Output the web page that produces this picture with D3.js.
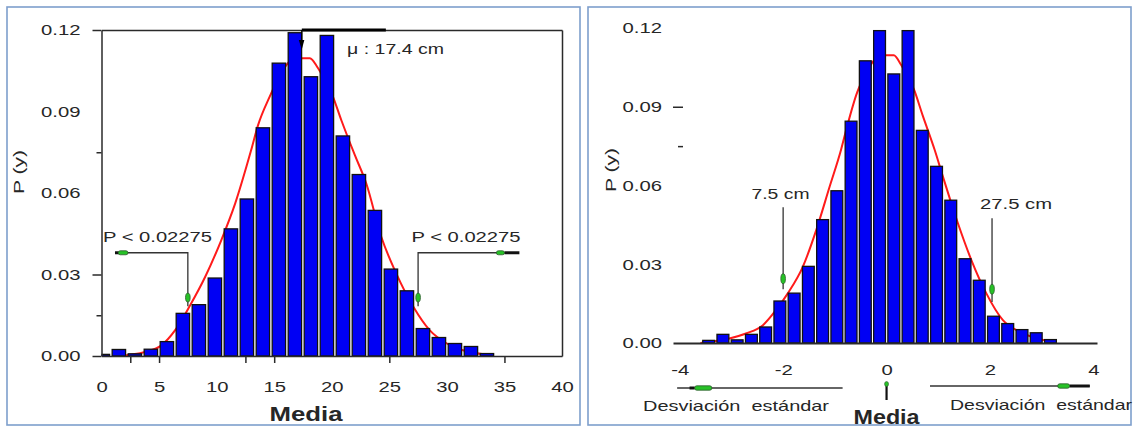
<!DOCTYPE html>
<html><head><meta charset="utf-8">
<script src="https://cdn.jsdelivr.net/npm/d3@7"></script>
<style>
html,body{margin:0;padding:0;background:#fff;}
svg{display:block;}
text{font-family:"Liberation Sans",Arial,sans-serif;fill:#262626;}
</style></head><body>
<svg id="chart" width="1134" height="428"></svg>
<script>
// ---------- data ----------
const binEdgesCm = [-0.55,0.84,2.23,3.62,5.01,6.40,7.79,9.18,10.57,11.96,13.35,14.74,16.13,17.52,18.91,20.30,21.69,23.08,24.47,25.86,27.25,28.64,30.03,31.42,32.81,34.20];
const probsCm = [0.0006,0.0024,0.0008,0.0025,0.0053,0.0157,0.0189,0.0287,0.0468,0.0578,0.0840,0.1078,0.1190,0.1028,0.1180,0.0810,0.0668,0.0536,0.0320,0.0240,0.0101,0.0068,0.0046,0.0035,0.0009];
const curveCmX = [1.8,2.2,3.8,5.2,6.4,7.7,9.0,10.4,11.6,13.0,13.6,14.6,15.6,16.5,17.2,18.1,18.8,20.0,20.85,22.0,23.0,24.3,25.6,27.1,28.5,30.0,31.4,34.0];
const curveCmY = [0.0,0.0003,0.0015,0.0039,0.0095,0.0187,0.0291,0.0426,0.056,0.0758,0.085,0.0954,0.104,0.109,0.1096,0.1096,0.106,0.0966,0.0866,0.074,0.0635,0.0439,0.0304,0.018,0.0095,0.0046,0.0021,0.0003];

const binEdgesZ = [-3.570,-3.295,-3.019,-2.744,-2.468,-2.193,-1.918,-1.642,-1.367,-1.091,-0.816,-0.541,-0.265,0.010,0.286,0.561,0.836,1.112,1.387,1.663,1.938,2.213,2.489,2.764,3.040,3.315];
const probsZ = [0.0010,0.0033,0.0012,0.0033,0.0061,0.0160,0.0190,0.0292,0.0470,0.0580,0.0845,0.1075,0.1190,0.1025,0.1190,0.0810,0.0673,0.0544,0.0321,0.0239,0.0102,0.0074,0.0051,0.0039,0.0013];
const curveZX = [-3.6,-3.43,-3.04,-2.72,-2.39,-2.14,-1.91,-1.62,-1.36,-1.10,-0.88,-0.77,-0.57,-0.36,-0.18,-0.04,0.14,0.28,0.53,0.70,0.93,1.09,1.38,1.64,1.93,2.25,2.58,2.90,3.29];
const curveZY = [0.0,0.0004,0.0017,0.0036,0.0068,0.0125,0.0189,0.029,0.043,0.0596,0.0736,0.082,0.0954,0.104,0.109,0.1096,0.1096,0.106,0.0966,0.0866,0.0736,0.0634,0.0456,0.0316,0.0189,0.0087,0.0042,0.0017,0.0004];

const xTicksCm = [0,5,10,15,20,25,30,35,40];
const xMarksCm = [2.5,5,12.5,15,25,35];
const yTicks = [0,0.03,0.06,0.09,0.12];
const yMajorMarksL = [0,0.03,0.12];
const yMinorMarksL = [0.015,0.075];
const yDashR = [0.09];
const yDashR2 = [0.075];
const xTicksZ = [-4,-2,0,2,4];

const muValue = 17.4, lowCm = 7.5, highCm = 27.5, lowZ = -2, highZ = 2.04;
const txtMu = "μ : 17.4 cm", txtP = "P < 0.02275", txtLow = "7.5 cm", txtHigh = "27.5 cm";
const txtDev = "Desviación  estándar", txtMedia = "Media", txtPy = "P (y)";

// ---------- helpers ----------
const svg = d3.select("#chart");
const fmt = d3.format(".2f");
const fmtZ = d => (d < 0 ? "-" : "") + Math.abs(d);
const BLUE = "#0000f4", RED = "#ff1a1a", GREEN = "#27c227", AX = "#2a2a2a";
function stretch(sel, k){ sel.each(function(){ const w=this.getComputedTextLength(); this.setAttribute("textLength", w*k); this.setAttribute("lengthAdjust","spacingAndGlyphs"); }); }
function fixLen(sel, w){ sel.attr("textLength", w).attr("lengthAdjust","spacingAndGlyphs"); }

// panel borders
svg.append("rect").attr("x",7).attr("y",7).attr("width",573).attr("height",418).attr("fill","none").attr("stroke","#7e9fcc").attr("stroke-width",1.6);
svg.append("rect").attr("x",588).attr("y",7).attr("width",543).attr("height",418).attr("fill","none").attr("stroke","#7e9fcc").attr("stroke-width",1.6);

// ================= LEFT PANEL =================
const xL = d3.scaleLinear().domain([0,40]).range([101.5,562]);
const yL = d3.scaleLinear().domain([0,0.12]).range([356,30]);
const gL = svg.append("g");

svg.append("defs").append("clipPath").attr("id","clipL").append("rect")
  .attr("x",xL(0)).attr("y",0).attr("width",xL(40)-xL(0)).attr("height",yL(0));

// curve (behind bars)
const lineL = d3.line().x((d,i)=>xL(curveCmX[i])).y(d=>yL(d)).curve(d3.curveMonotoneX);
gL.append("path").datum(curveCmY).attr("d",lineL).attr("fill","none").attr("stroke",RED).attr("stroke-width",2);

// bars
gL.append("g").attr("clip-path","url(#clipL)").selectAll("rect").data(probsCm).join("rect")
  .attr("x",(d,i)=>xL(binEdgesCm[i])+1)
  .attr("width",(d,i)=>xL(binEdgesCm[i+1])-xL(binEdgesCm[i])-2.6)
  .attr("y",d=>yL(d)).attr("height",d=>yL(0)-yL(d))
  .attr("fill",BLUE).attr("stroke","#111").attr("stroke-width",1.3);

// axes / frame
function styleAxis(g){ g.selectAll("path,line").attr("stroke",AX).attr("stroke-width",1.5); }
gL.append("g").attr("transform",`translate(${xL(0)},0)`)
  .call(d3.axisLeft(yL).tickValues(yMajorMarksL).tickSize(9).tickSizeOuter(0).tickFormat(""))
  .call(styleAxis);
gL.append("g").attr("transform",`translate(${xL(0)},0)`)
  .call(d3.axisLeft(yL).tickValues(yMinorMarksL).tickSize(5).tickFormat(""))
  .call(g=>g.select(".domain").remove()).call(styleAxis);
gL.append("g").attr("transform",`translate(0,${yL(0)})`)
  .call(d3.axisBottom(xL).tickValues(xMarksCm).tickSize(7).tickSizeOuter(0).tickFormat(""))
  .call(styleAxis);
gL.append("g").attr("transform",`translate(0,${yL(0.12)})`)
  .call(d3.axisTop(xL).tickValues([]).tickSizeOuter(0)).call(styleAxis);
gL.append("g").attr("transform",`translate(${xL(40)},0)`)
  .call(d3.axisRight(yL).tickValues([]).tickSizeOuter(0)).call(styleAxis);

// tick labels
const ylab = gL.append("g").attr("transform",`translate(${xL(0)},0)`)
  .call(d3.axisLeft(yL).tickValues(yTicks).tickSize(0).tickPadding(21).tickFormat(fmt))
  .call(g=>g.select(".domain").remove());
ylab.selectAll("text").attr("font-size",15).attr("font-family",null).attr("fill","#262626");
stretch(ylab.selectAll("text"),1.35);
const xlab = gL.append("g").attr("transform",`translate(0,${yL(0)})`)
  .call(d3.axisBottom(xL).tickValues(xTicksCm).tickSize(0).tickPadding(25))
  .call(g=>g.select(".domain").remove());
xlab.selectAll("text").attr("font-size",15).attr("font-family",null).attr("fill","#262626");
stretch(xlab.selectAll("text"),1.35);

// axis titles
gL.append("text").attr("transform","translate(23.5,172) rotate(-90)").attr("text-anchor","middle")
  .attr("font-size",15).text(txtPy).call(fixLen,44);
gL.append("text").attr("x",306).attr("y",421).attr("text-anchor","middle")
  .attr("font-family","Lato, 'Open Sans', sans-serif").attr("font-weight","bold").attr("font-size",21).attr("fill","#111")
  .text(txtMedia).call(fixLen,73);

// mu annotation
gL.append("line").attr("x1",xL(muValue)).attr("x2",xL(24.7)).attr("y1",yL(0.12)).attr("y2",yL(0.12))
  .attr("stroke","#000").attr("stroke-width",3);
gL.append("line").attr("x1",xL(muValue)).attr("x2",xL(muValue)).attr("y1",yL(0.12)).attr("y2",yL(0.1145))
  .attr("stroke","#000").attr("stroke-width",1.4);
gL.append("path").attr("d",`M${xL(muValue)-3},${yL(0.1145)-5} L${xL(muValue)+2.5},${yL(0.1145)-5} L${xL(muValue)},${yL(0.1128)} Z`).attr("fill","#000");
gL.append("text").attr("x",347).attr("y",53.5).attr("font-size",15).text(txtMu).call(fixLen,97);

// P annotations
function pArrow(xTip, xFar, markA, markB, thickA, thickB, textX){
  const yH = yL(0.038), yEnd = yL(0.0183);
  gL.append("path").attr("d",`M${xL(xFar)},${yH} L${xL(xTip)},${yH} L${xL(xTip)},${yEnd}`)
    .attr("fill","none").attr("stroke","#333").attr("stroke-width",1.3);
  gL.append("line").attr("x1",xL(thickA)).attr("x2",xL(thickB)).attr("y1",yH).attr("y2",yH).attr("stroke","#111").attr("stroke-width",3);
  gL.append("rect").attr("x",xL(markA)).attr("y",yH-2).attr("width",xL(markB)-xL(markA)).attr("height",4).attr("rx",2)
    .attr("fill",GREEN).attr("stroke","#2d5a2d").attr("stroke-width",0.8);
  gL.append("ellipse").attr("cx",xL(xTip)).attr("cy",yL(0.0215)).attr("rx",2.3).attr("ry",4.5)
    .attr("fill",GREEN).attr("stroke","#2d5a2d").attr("stroke-width",0.8);
  gL.append("text").attr("x",textX).attr("y",241.5).attr("font-size",15).text(txtP).call(fixLen,109);
}
pArrow(lowCm, 1.17, 1.45, 2.3, 1.17, 1.5, 103);
pArrow(highCm, 36.2, 34.3, 35.0, 35.0, 36.3, 411.5);

// ================= RIGHT PANEL =================
const xR = d3.scaleLinear().domain([-4.13,4.07]).range([673,1097]);
const yR = d3.scaleLinear().domain([0,0.12]).range([343,28]);
const gR = svg.append("g");

const lineR = d3.line().x((d,i)=>xR(curveZX[i])).y(d=>yR(d)).curve(d3.curveMonotoneX);
gR.append("path").datum(curveZY).attr("d",lineR).attr("fill","none").attr("stroke",RED).attr("stroke-width",2);

gR.append("g").selectAll("rect").data(probsZ).join("rect")
  .attr("x",(d,i)=>xR(binEdgesZ[i])+0.8)
  .attr("width",(d,i)=>xR(binEdgesZ[i+1])-xR(binEdgesZ[i])-2.4)
  .attr("y",d=>yR(d)).attr("height",d=>yR(0)-yR(d))
  .attr("fill",BLUE).attr("stroke","#111").attr("stroke-width",1.3);

const xlabR = gR.append("g").attr("transform",`translate(0,${yR(0)})`)
  .call(d3.axisBottom(xR).tickValues(xTicksZ).tickSize(0).tickSizeOuter(0).tickPadding(21).tickFormat(fmtZ));
xlabR.select(".domain").attr("stroke",AX).attr("stroke-width",2);
xlabR.selectAll("text").attr("font-size",15).attr("font-family",null).attr("fill","#262626");
stretch(xlabR.selectAll("text"),1.35);

const ylabR = gR.append("g").attr("transform","translate(683,0)")
  .call(d3.axisLeft(yR).tickValues(yTicks).tickSize(0).tickPadding(21).tickFormat(fmt))
  .call(g=>g.select(".domain").remove());
ylabR.selectAll("text").attr("font-size",15).attr("font-family",null).attr("fill","#262626");
stretch(ylabR.selectAll("text"),1.35);
gR.append("g").attr("transform","translate(683,0)")
  .call(d3.axisLeft(yR).tickValues(yDashR).tickSize(10).tickFormat(""))
  .call(g=>g.select(".domain").remove()).call(styleAxis);
gR.append("g").attr("transform","translate(683,0)")
  .call(d3.axisLeft(yR).tickValues(yDashR2).tickSize(5).tickFormat(""))
  .call(g=>g.select(".domain").remove()).call(styleAxis);

gR.append("text").attr("transform","translate(616,170) rotate(-90)").attr("text-anchor","middle")
  .attr("font-size",15).text(txtPy).call(fixLen,44);

// z annotations
function zArrow(z, yTop, yBot, yMark, label, tx, ty, tw){
  gR.append("line").attr("x1",xR(z)).attr("x2",xR(z)).attr("y1",yR(yTop)).attr("y2",yR(yBot)).attr("stroke","#333").attr("stroke-width",1.3);
  gR.append("ellipse").attr("cx",xR(z)).attr("cy",yR(yMark)).attr("rx",2.3).attr("ry",5)
    .attr("fill",GREEN).attr("stroke","#2d5a2d").attr("stroke-width",0.8);
  gR.append("text").attr("x",tx).attr("y",ty).attr("font-size",15).text(label).call(fixLen,tw);
}
zArrow(lowZ, 0.0517, 0.0205, 0.0245, txtLow, 751.5, 198.5, 58);
zArrow(highZ, 0.0475, 0.0156, 0.0205, txtHigh, 980, 209, 72);

// bottom annotation lines
const yDevL = 388, yDevR = 386;
gR.append("line").attr("x1",xR(-4.05)).attr("x2",xR(-0.85)).attr("y1",yDevL).attr("y2",yDevL).attr("stroke","#333").attr("stroke-width",1.3);
gR.append("line").attr("x1",xR(-3.81)).attr("x2",xR(-3.71)).attr("y1",yDevL).attr("y2",yDevL).attr("stroke","#111").attr("stroke-width",3);
gR.append("rect").attr("x",xR(-3.71)).attr("y",yDevL-2.2).attr("width",xR(-3.38)-xR(-3.71)).attr("height",4.4).attr("rx",2)
  .attr("fill",GREEN).attr("stroke","#2d5a2d").attr("stroke-width",0.8);
gR.append("line").attr("x1",xR(0.84)).attr("x2",xR(3.93)).attr("y1",yDevR).attr("y2",yDevR).attr("stroke","#333").attr("stroke-width",1.3);
gR.append("line").attr("x1",xR(3.54)).attr("x2",xR(3.93)).attr("y1",yDevR).attr("y2",yDevR).attr("stroke","#111").attr("stroke-width",3);
gR.append("rect").attr("x",xR(3.31)).attr("y",yDevR-2.2).attr("width",xR(3.54)-xR(3.31)).attr("height",4.4).attr("rx",2)
  .attr("fill",GREEN).attr("stroke","#2d5a2d").attr("stroke-width",0.8);
gR.append("line").attr("x1",xR(0)).attr("x2",xR(0)).attr("y1",383).attr("y2",400).attr("stroke","#111").attr("stroke-width",2.2);
gR.append("ellipse").attr("cx",xR(0)).attr("cy",384).attr("rx",2).attr("ry",2.5).attr("fill",GREEN).attr("stroke","#2d5a2d").attr("stroke-width",0.6);

gR.append("text").attr("x",643).attr("y",411).attr("font-size",15).style("white-space","pre").text(txtDev).call(fixLen,186);
gR.append("text").attr("x",950).attr("y",410).attr("font-size",15).style("white-space","pre").text(txtDev).call(fixLen,182);
gR.append("text").attr("x",xR(0)).attr("y",424).attr("text-anchor","middle")
  .attr("font-family","Lato, 'Open Sans', sans-serif").attr("font-weight","bold").attr("font-size",21).attr("fill","#111")
  .text(txtMedia).call(fixLen,66);
</script>
</body></html>
